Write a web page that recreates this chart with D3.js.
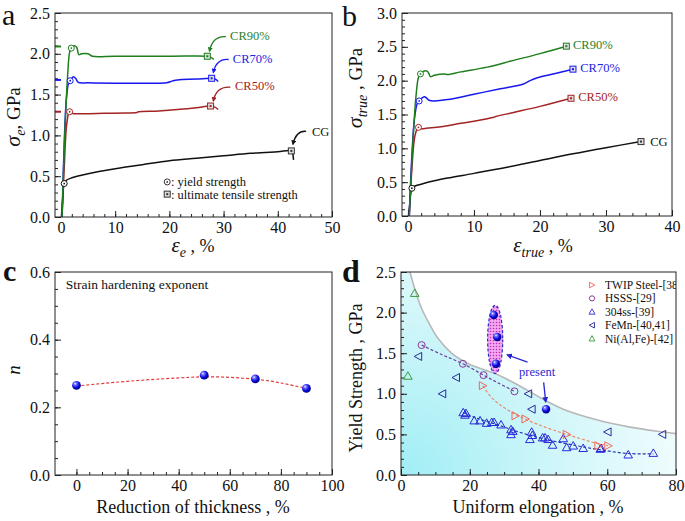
<!DOCTYPE html>
<html><head><meta charset="utf-8">
<script src="https://cdn.jsdelivr.net/npm/d3@7"></script>
<style>
body{margin:0;background:#fff;}
svg{display:block;font-family:"Liberation Serif","Times New Roman",serif;}
</style></head><body>
<svg id="chart" width="685" height="521"></svg>
<script>
// ---------- DATA ----------
// Panel a: engineering stress-strain (strain %, stress GPa)
const aCG   = [[0.1,0],[0.3,0.2],[0.6,0.41],[1,0.45],[2,0.48],[5,0.53],[10,0.59],[15,0.64],[20,0.69],[25,0.72],[30,0.75],[35,0.78],[40,0.80],[42.5,0.81],[42.8,0.76],[42.9,0.70]];
const aCR50 = [[0.2,0],[0.6,0.6],[1.0,1.1],[1.4,1.27],[1.6,1.29],[2.0,1.27],[4,1.265],[8,1.27],[12,1.275],[14,1.28],[14.3,1.29],[18,1.30],[22,1.32],[25,1.34],[27.6,1.36],[28.3,1.35],[29,1.32]];
const aCR70 = [[0.2,0],[0.6,0.9],[1.0,1.45],[1.4,1.64],[1.7,1.67],[2.3,1.72],[2.7,1.70],[3.2,1.65],[5,1.645],[10,1.64],[15,1.64],[19.5,1.645],[20.5,1.665],[21.5,1.68],[25,1.69],[27.8,1.70],[28.5,1.69],[29,1.66]];
const aCR90 = [[0.2,0],[0.7,1.0],[1.2,1.7],[1.6,2.02],[1.9,2.07],[2.4,2.10],[2.9,2.08],[3.3,1.99],[3.8,2.00],[5,2.00],[5.8,1.97],[10,1.97],[20,1.97],[27,1.97],[27.6,1.96],[28.2,1.93]];
const aStubs = [["CR50",1.29],["CR70",1.68],["CR90",2.09]];
const aYield = [["CG",0.6,0.41],["CR50",1.6,1.29],["CR70",1.7,1.67],["CR90",1.9,2.07]];
const aUTS   = [["CG",42.5,0.81],["CR50",27.6,1.36],["CR70",27.8,1.70],["CR90",27.0,1.97]];
const aLabels = [["CG","CG",46.3,1.05,45.6,1.05,42.8,0.89],["CR50","CR50%",32.1,1.61,31.6,1.59,28.1,1.42],["CR70","CR70%",31.7,1.94,31.3,1.93,28.1,1.77],["CR90","CR90%",31.2,2.22,30.8,2.21,27.4,2.03]];

// Panel b: true stress-strain
const bCG   = [[0.1,0],[0.3,0.2],[0.6,0.41],[1,0.44],[2,0.47],[4,0.52],[6,0.56],[10,0.63],[15,0.72],[20,0.82],[25,0.92],[30,1.01],[35.3,1.10]];
const bCR50 = [[0.2,0],[0.6,0.7],[1.0,1.15],[1.4,1.29],[1.6,1.31],[2.0,1.29],[3,1.30],[5,1.32],[8,1.37],[10,1.40],[13,1.46],[13.3,1.47],[16,1.53],[20,1.62],[24.7,1.74]];
const bCR70 = [[0.2,0],[0.6,0.9],[1.0,1.45],[1.4,1.66],[1.7,1.70],[2.2,1.75],[2.6,1.76],[3.2,1.71],[4,1.70],[6,1.72],[10,1.80],[14,1.88],[17.5,1.95],[18.5,2.00],[19.5,2.04],[22,2.10],[25,2.17]];
const bCR90 = [[0.2,0],[0.7,1.0],[1.2,1.75],[1.6,2.05],[1.9,2.10],[2.4,2.14],[2.9,2.14],[3.2,2.10],[3.4,2.06],[4,2.08],[5.5,2.10],[6,2.09],[8,2.13],[12,2.20],[16,2.30],[20,2.40],[24,2.51]];
const bYield = [["CG",0.6,0.41],["CR50",1.6,1.31],["CR70",1.7,1.70],["CR90",1.9,2.10]];
const bUTS   = [["CG",35.3,1.10],["CR50",24.7,1.74],["CR70",25.0,2.17],["CR90",24.0,2.51]];
const bLabels = [["CG","CG",36.7,1.10],["CR50","CR50%",25.8,1.76],["CR70","CR70%",26.1,2.19],["CR90","CR90%",25.0,2.54]];

// Panel c: strain hardening exponent
const cThick = [0,50,70,90];
const cN     = [0.265,0.295,0.284,0.256];
const cFit   = [[0,0.263],[20,0.277],[40,0.287],[55,0.290],[70,0.283],[80,0.272],[90,0.256]];

// Panel d: yield strength vs uniform elongation
const dTWIP = [[23.8,1.10],[33.3,0.73],[36.2,0.69],[48.2,0.50],[57.4,0.36],[60.3,0.36]];
const dHSSS = [[6,1.60],[18,1.37],[24,1.23],[33,1.03]];
const d304  = [[18.1,0.77],[18.9,0.76],[18.6,0.74],[21.3,0.67],[23,0.67],[24.9,0.64],[26.4,0.65],[27.1,0.65],[29.1,0.62],[32,0.56],[32.5,0.54],[32,0.50],[38,0.53],[38.2,0.49],[37.5,0.44],[41.2,0.46],[41.9,0.46],[42.8,0.44],[44.1,0.37],[47.2,0.45],[48.2,0.34],[50.1,0.36],[53,0.33],[58,0.32],[58.2,0.33],[66.1,0.25],[73.4,0.27]];
const dFeMn = [[5,1.46],[12,1.00],[16,1.20],[37,1.00],[38,0.81],[60.1,0.53],[76,0.50]];
const dNi   = [[2,1.22],[4,2.24]];
const dPresent = [[27.0,1.97],[28.0,1.70],[27.6,1.37],[42.2,0.81]];
const dEllipse = {cx:27.4, cy:1.67, rx:2.2, ry:0.42};
const dBound = [[2.6,2.5],[4.1,2.28],[6,2.05],[8.4,1.85],[10.8,1.68],[14.7,1.50],[19.6,1.37],[24,1.30],[27.3,1.25],[33.1,1.13],[39,0.99],[41.9,0.92],[47.2,0.81],[56.9,0.68],[66.6,0.59],[76.3,0.53],[80,0.51]];
const dFitHSSS = [[6,1.60],[12,1.48],[18,1.37],[24,1.23],[28,1.14],[33,1.03]];
const dFitTWIP = [[23.8,1.10],[26,0.97],[28,0.89],[30,0.83],[34,0.73],[40,0.62],[46,0.53],[52,0.45],[56,0.40],[60.3,0.36]];
const dFit304  = [[18.1,0.77],[22,0.70],[28,0.62],[35,0.52],[42,0.44],[50,0.37],[58,0.31],[66,0.265],[73.4,0.26]];
const dArrows = [[36.8,1.39,30.9,1.48],[41.5,1.14,42.1,0.90]];
const dPresentLabel = [39.6,1.27];
const dLegend = ["TWIP Steel-[38]","HSSS-[29]","304ss-[39]","FeMn-[40,41]","Ni(Al,Fe)-[42]"];

// ticks
const aXTicks=[0,10,20,30,40,50], aYTicks=[0,0.5,1,1.5,2,2.5];
const bXTicks=[0,10,20,30,40], bYTicks=[0,0.5,1,1.5,2,2.5,3];
const cXTicks=[0,20,40,60,80,100], cYTicks=[0,0.2,0.4,0.6];
const dXTicks=[0,20,40,60,80], dYTicks=[0,0.5,1,1.5,2,2.5];

const colors = {CG:"#111111", CR50:"#a32424", CR70:"#1818ee", CR90:"#1f7f1f"};
const textColors = {CG:"#111111", CR50:"#a32424", CR70:"#2222e0", CR90:"#2b7f2b"};
const FONT = "'Liberation Serif','Times New Roman',serif";

// ---------- DRAW ----------
const svg = d3.select("#chart");
const defs = svg.append("defs");

const sph = defs.append("radialGradient").attr("id","sph").attr("cx","38%").attr("cy","35%").attr("r","65%").attr("fx","35%").attr("fy","30%");
sph.append("stop").attr("offset","0").attr("stop-color","#ffffff");
sph.append("stop").attr("offset","0.22").attr("stop-color","#7a7aff");
sph.append("stop").attr("offset","0.65").attr("stop-color","#0a0ae0");
sph.append("stop").attr("offset","1").attr("stop-color","#000080");

const pat = defs.append("pattern").attr("id","dots").attr("width",3).attr("height",3).attr("patternUnits","userSpaceOnUse");
pat.append("rect").attr("width",3).attr("height",3).attr("fill","#f3a8ef");
pat.append("circle").attr("cx",1.5).attr("cy",1.5).attr("r",0.8).attr("fill","#c02cbc");

function marker(id,color,size){
  defs.append("marker").attr("id",id).attr("viewBox","0 0 10 10").attr("refX",8).attr("refY",5)
    .attr("markerWidth",size).attr("markerHeight",size).attr("orient","auto-start-reverse").attr("markerUnits","userSpaceOnUse")
    .append("path").attr("d","M0,0L10,5L0,10z").attr("fill",color);
}
Object.keys(colors).forEach(k=>marker("arr"+k,colors[k],5));
marker("arrD","#2626d0",6);

function panel(cfg){
  const x = d3.scaleLinear().domain(cfg.xd).range([cfg.l,cfg.r]);
  const y = d3.scaleLinear().domain(cfg.yd).range([cfg.b,cfg.t]);
  const g = svg.append("g");
  const clipId = "clip"+cfg.id;
  defs.append("clipPath").attr("id",clipId).append("rect").attr("x",cfg.l).attr("y",cfg.t).attr("width",cfg.r-cfg.l).attr("height",cfg.b-cfg.t);
  const back = g.append("g").attr("clip-path",`url(#${clipId})`);
  const axg = g.append("g");
  axg.append("g").attr("transform",`translate(0,${cfg.b})`)
    .call(d3.axisBottom(x).tickValues(cfg.xm).tickSize(-3).tickFormat(""))
    .call(s=>{s.select(".domain").remove();});
  axg.append("g").attr("transform",`translate(${cfg.l},0)`)
    .call(d3.axisLeft(y).tickValues(cfg.ym).tickSize(-3).tickFormat(""))
    .call(s=>{s.select(".domain").remove();});
  const xa = axg.append("g").attr("transform",`translate(0,${cfg.b})`)
    .call(d3.axisBottom(x).tickValues(cfg.xt).tickSize(-6).tickPadding(5).tickFormat(cfg.xf));
  const ya = axg.append("g").attr("transform",`translate(${cfg.l},0)`)
    .call(d3.axisLeft(y).tickValues(cfg.yt).tickSize(-6).tickPadding(5).tickFormat(cfg.yf));
  [xa,ya].forEach(a=>{a.attr("font-family",FONT).attr("font-size",16);a.select(".domain").remove();a.selectAll("text").attr("font-family",FONT).attr("font-size",16).attr("fill","#111");});
  axg.selectAll(".tick line").attr("stroke","#222");
  const front = g.append("g").attr("clip-path",`url(#${clipId})`);
  g.append("rect").attr("x",cfg.l).attr("y",cfg.t).attr("width",cfg.r-cfg.l).attr("height",cfg.b-cfg.t)
    .attr("fill","none").attr("stroke","#222").attr("stroke-width",1);
  return {x,y,g,back,front};
}

const line = (x,y)=>d3.line().x(d=>x(d[0])).y(d=>y(d[1])).curve(d3.curveMonotoneX);
const lineC = (x,y)=>d3.line().x(d=>x(d[0])).y(d=>y(d[1])).curve(d3.curveCatmullRom.alpha(0.5));

function yieldMark(sel,cx,cy,color){
  sel.append("circle").attr("cx",cx).attr("cy",cy).attr("r",3).attr("fill","#fff").attr("stroke",color).attr("stroke-width",1);
  sel.append("circle").attr("cx",cx).attr("cy",cy).attr("r",0.9).attr("fill",color);
}
function utsMark(sel,cx,cy,color){
  sel.append("rect").attr("x",cx-3).attr("y",cy-3).attr("width",6).attr("height",6).attr("fill","#ddd").attr("stroke",color).attr("stroke-width",1);
  sel.append("rect").attr("x",cx-1).attr("y",cy-1).attr("width",2).attr("height",2).attr("fill",color);
}

// ===== Panel a =====
{
  const P = panel({id:"a",l:55,r:332,t:13,b:217,xd:[-1.1,50],yd:[0,2.5],xt:aXTicks,yt:aYTicks,
    xm:d3.range(0,50,2),ym:d3.range(0,2.5,0.1),xf:d3.format("d"),yf:d3.format(".1f")});
  const {x,y,front} = P;
  const series = {CG:aCG,CR50:aCR50,CR70:aCR70,CR90:aCR90};
  aStubs.forEach(([k,v])=>front.append("line").attr("x1",x(-1.1)).attr("x2",x(0)).attr("y1",y(v)).attr("y2",y(v)).attr("stroke",colors[k]).attr("stroke-width",2));
  ["CG","CR50","CR70","CR90"].forEach(k=>{
    front.append("path").datum(series[k]).attr("d",lineC(x,y)).attr("fill","none").attr("stroke",colors[k]).attr("stroke-width",1.5);
  });
  aYield.forEach(([k,a,b])=>yieldMark(P.g,x(a),y(b),colors[k]));
  aUTS.forEach(([k,a,b])=>utsMark(P.g,x(a),y(b),k==="CG"?"#333":colors[k]));
  aLabels.forEach(([k,t,lx,ly,sx,sy,ex,ey])=>{
    P.g.append("text").attr("x",x(lx)).attr("y",y(ly)).attr("dy","0.35em").attr("font-size",12.5).attr("fill",textColors[k]).text(t);
    const x0=x(sx)-2,y0=y(sy),x1=x(ex),y1=y(ey);
    P.g.append("path").attr("d",`M${x0},${y0}Q${x1+3},${y0-1} ${x1},${y1}`).attr("fill","none").attr("stroke",colors[k]).attr("stroke-width",1.3).attr("marker-end",`url(#arr${k})`);
  });
  yieldMark(P.g,x(19.6),y(0.43),"#333");
  P.g.append("text").attr("x",x(20.3)).attr("y",y(0.43)).attr("dy","0.35em").attr("font-size",12.5).attr("fill","#111").text(": yield strength");
  utsMark(P.g,x(19.6),y(0.28),"#333");
  P.g.append("text").attr("x",x(20.3)).attr("y",y(0.28)).attr("dy","0.35em").attr("font-size",12.5).attr("fill","#111").text(": ultimate tensile strength");
  const xt = svg.append("text").attr("x",193).attr("y",252).attr("text-anchor","middle").attr("fill","#111");
  xt.append("tspan").attr("font-style","italic").attr("font-size",21).text("ε");
  xt.append("tspan").attr("font-style","italic").attr("font-size",14).attr("dy",5).text("e");
  xt.append("tspan").attr("font-size",18).attr("dy",-5).text(" , %");
  const yt = svg.append("text").attr("transform","translate(20,117) rotate(-90)").attr("text-anchor","middle").attr("fill","#111");
  yt.append("tspan").attr("font-style","italic").attr("font-size",22).text("σ");
  yt.append("tspan").attr("font-style","italic").attr("font-size",14).attr("dy",5).text("e");
  yt.append("tspan").attr("font-size",19).attr("dy",-5).text(", GPa");
  svg.append("text").attr("x",2).attr("y",25).attr("font-size",30).attr("fill","#111").text("a");
}

// ===== Panel b =====
{
  const P = panel({id:"b",l:402,r:672,t:13,b:216,xd:[-0.9,40],yd:[0,3],xt:bXTicks,yt:bYTicks,
    xm:d3.range(0,40,2),ym:d3.range(0,3,0.1),xf:d3.format("d"),yf:d3.format(".1f")});
  const {x,y,front} = P;
  const series = {CG:bCG,CR50:bCR50,CR70:bCR70,CR90:bCR90};
  ["CG","CR50","CR70","CR90"].forEach(k=>{
    front.append("path").datum(series[k]).attr("d",lineC(x,y)).attr("fill","none").attr("stroke",colors[k]).attr("stroke-width",1.5);
  });
  bYield.forEach(([k,a,b])=>yieldMark(P.g,x(a),y(b),colors[k]));
  bUTS.forEach(([k,a,b])=>utsMark(P.g,x(a),y(b),k==="CG"?"#333":colors[k]));
  bLabels.forEach(([k,t,lx,ly])=>P.g.append("text").attr("x",x(lx)).attr("y",y(ly)).attr("dy","0.35em").attr("font-size",12.5).attr("fill",textColors[k]).text(t));
  const xt = svg.append("text").attr("x",543).attr("y",252).attr("text-anchor","middle").attr("fill","#111");
  xt.append("tspan").attr("font-style","italic").attr("font-size",21).text("ε");
  xt.append("tspan").attr("font-style","italic").attr("font-size",14).attr("dy",5).text("true");
  xt.append("tspan").attr("font-size",18).attr("dy",-5).text(" , %");
  const yt = svg.append("text").attr("transform","translate(362,88) rotate(-90)").attr("text-anchor","middle").attr("fill","#111");
  yt.append("tspan").attr("font-style","italic").attr("font-size",22).text("σ");
  yt.append("tspan").attr("font-style","italic").attr("font-size",14).attr("dy",5).text("true");
  yt.append("tspan").attr("font-size",19).attr("dy",-5).text(" , GPa");
  svg.append("text").attr("x",342).attr("y",26).attr("font-size",30).attr("fill","#111").text("b");
}

// ===== Panel c =====
{
  const P = panel({id:"c",l:55,r:332,t:272,b:475,xd:[-8.4,100],yd:[0,0.6],xt:cXTicks,yt:cYTicks,
    xm:d3.range(0,100,5),ym:d3.range(0,0.6,0.05),xf:d3.format("d"),yf:d3.format(".1f")});
  const {x,y,front} = P;
  front.append("path").datum(cFit).attr("d",line(x,y).curve(d3.curveNatural)).attr("fill","none").attr("stroke","#e23a3a").attr("stroke-width",1.2).attr("stroke-dasharray","3,2");
  cThick.forEach((t,i)=>P.g.append("circle").attr("cx",x(t)).attr("cy",y(cN[i])).attr("r",4.4).attr("fill","url(#sph)"));
  P.g.append("text").attr("x",x(-4.2)).attr("y",y(0.565)).attr("dy","0.35em").attr("font-size",13.5).attr("fill","#111").text("Strain hardening exponent");
  svg.append("text").attr("x",193).attr("y",513).attr("text-anchor","middle").attr("font-size",18).attr("fill","#111").text("Reduction of thickness , %");
  svg.append("text").attr("transform","translate(20,370) rotate(-90)").attr("text-anchor","middle").attr("font-style","italic").attr("font-size",19).attr("fill","#111").text("n");
  svg.append("text").attr("x",3).attr("y",281).attr("font-size",30).attr("font-weight","bold").attr("fill","#111").text("c");
}

// ===== Panel d =====
{
  const P = panel({id:"d",l:401,r:676,t:272,b:475,xd:[0,80],yd:[0,2.5],xt:dXTicks,yt:dYTicks,
    xm:d3.range(0,80,5),ym:d3.range(0,2.5,0.1),xf:d3.format("d"),yf:d3.format(".1f")});
  const {x,y,back,front} = P;
  const gr = defs.append("radialGradient").attr("id","cyan").attr("gradientUnits","userSpaceOnUse")
    .attr("cx",x(0)).attr("cy",y(0)).attr("r",340);
  gr.append("stop").attr("offset","0").attr("stop-color","#a0eef5");
  gr.append("stop").attr("offset","0.5").attr("stop-color","#d4f7fa");
  gr.append("stop").attr("offset","1").attr("stop-color","#ffffff");
  const areaPts = [[x.domain()[0],y.domain()[1]]].concat(dBound);
  back.append("path").datum(areaPts).attr("d",d3.area().x(d=>x(d[0])).y0(y(0)).y1(d=>y(d[1])).curve(d3.curveLinear)).attr("fill","url(#cyan)");
  back.append("path").datum(dBound).attr("d",lineC(x,y)).attr("fill","none").attr("stroke","#b8b8b8").attr("stroke-width",1.6);
  front.append("path").datum(dFitHSSS).attr("d",lineC(x,y)).attr("fill","none").attr("stroke","#6b3c9e").attr("stroke-width",1.2).attr("stroke-dasharray","3,2");
  front.append("path").datum(dFitTWIP).attr("d",lineC(x,y)).attr("fill","none").attr("stroke","#f08a6a").attr("stroke-width",1.2).attr("stroke-dasharray","3,2");
  front.append("path").datum(dFit304).attr("d",lineC(x,y)).attr("fill","none").attr("stroke","#2a34b4").attr("stroke-width",1.2).attr("stroke-dasharray","3,2");
  const shapes = {
    right:"M-3.5,-4L4,0L-3.5,4Z", left:"M3.5,-4L-4,0L3.5,4Z", up:"M0,-4.2L4.3,3.3L-4.3,3.3Z"
  };
  function pts(data,shape,color){
    if(shape==="circle") data.forEach(d=>front.append("circle").attr("cx",x(d[0])).attr("cy",y(d[1])).attr("r",3.5).attr("fill","none").attr("stroke",color).attr("stroke-width",1));
    else data.forEach(d=>front.append("path").attr("transform",`translate(${x(d[0])},${y(d[1])})`).attr("d",shapes[shape]).attr("fill","none").attr("stroke",color).attr("stroke-width",1));
  }
  pts(d304,"up","#2a2ad8");
  pts(dFeMn,"left","#2a2a9a");
  pts(dHSSS,"circle","#8a3a96");
  pts(dTWIP,"right","#f0665a");
  pts(dNi,"up","#3a9a3a");
  front.append("ellipse").attr("cx",x(dEllipse.cx)).attr("cy",y(dEllipse.cy)).attr("rx",x(dEllipse.cx+dEllipse.rx)-x(dEllipse.cx)).attr("ry",y(dEllipse.cy-dEllipse.ry)-y(dEllipse.cy))
    .attr("fill","url(#dots)").attr("stroke","#2a2ad0").attr("stroke-width",1.2).attr("stroke-dasharray","3,2");
  dPresent.forEach(d=>front.append("circle").attr("cx",x(d[0])).attr("cy",y(d[1])).attr("r",4.2).attr("fill","url(#sph)"));
  dArrows.forEach(a=>front.append("line").attr("x1",x(a[0])).attr("y1",y(a[1])).attr("x2",x(a[2])).attr("y2",y(a[3])).attr("stroke","#2626d0").attr("stroke-width",1.3).attr("marker-end","url(#arrD)"));
  front.append("text").attr("x",x(dPresentLabel[0])).attr("y",y(dPresentLabel[1])).attr("dy","0.35em").attr("text-anchor","middle").attr("font-size",12.5).attr("fill","#2a2ad0").text("present");
  const legShapes = [["right","#f0665a"],["circle","#8a3a96"],["up","#2a2ad8"],["left","#2a2a9a"],["up","#3a9a3a"]];
  const lg = front.append("g");
  dLegend.forEach((t,i)=>{
    const yy = 285 + i*13.4;
    const [s,c] = legShapes[i];
    if(s==="circle") lg.append("circle").attr("cx",592).attr("cy",yy).attr("r",2.6).attr("fill","none").attr("stroke",c);
    else lg.append("path").attr("transform",`translate(592,${yy}) scale(0.7)`).attr("d",shapes[s]).attr("fill","none").attr("stroke",c).attr("stroke-width",1.3);
    lg.append("text").attr("x",605).attr("y",yy).attr("dy","0.35em").attr("font-size",11.5).attr("fill","#111").text(t);
  });
  svg.append("text").attr("x",538).attr("y",513).attr("text-anchor","middle").attr("font-size",18).attr("fill","#111").text("Uniform elongation , %");
  svg.append("text").attr("transform","translate(362,378) rotate(-90)").attr("text-anchor","middle").attr("font-size",18).attr("fill","#111").text("Yield Strength , GPa");
  svg.append("text").attr("x",342).attr("y",282).attr("font-size",32).attr("font-weight","bold").attr("fill","#111").text("d");
}
</script>
</body></html>
